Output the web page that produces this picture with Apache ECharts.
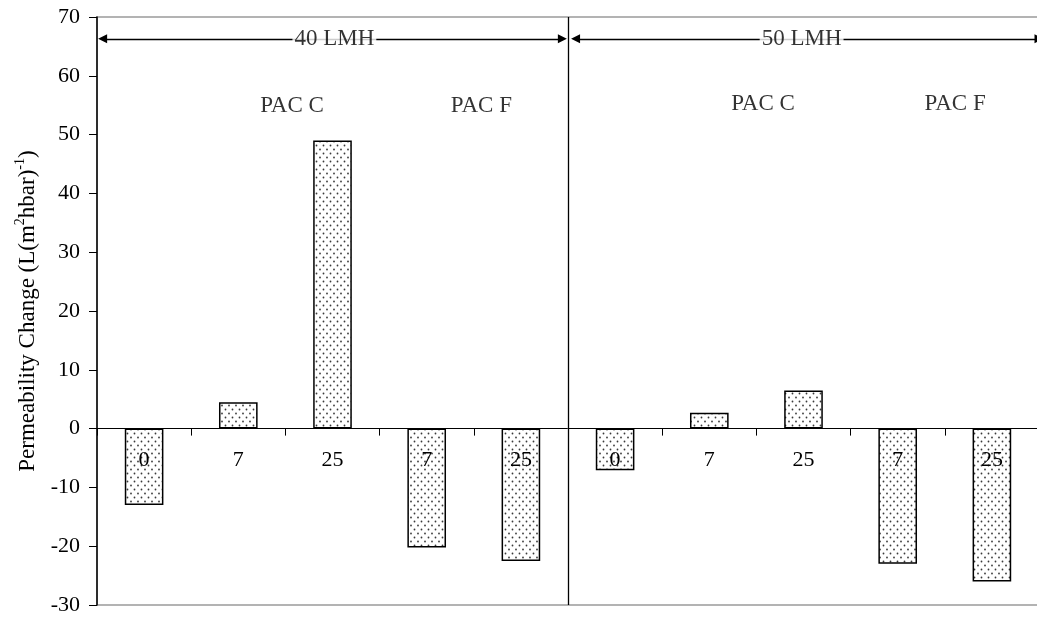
<!DOCTYPE html>
<html>
<head>
<meta charset="utf-8">
<title>Permeability Change</title>
<script src="https://cdn.jsdelivr.net/npm/echarts@6/dist/echarts.min.js"></script>
<style>
  html, body { margin: 0; padding: 0; background: #fff; }
  #chart { width: 1037px; height: 618px; }
</style>
</head>
<body>
<div id="chart"></div>
<script>
// PAC dose (mg/L) for each bar: 40 LMH block then 50 LMH block
const categories = ['0', '7', '25', '7', '25', '0', '7', '25', '7', '25'];
// Permeability change, L/(m2 h bar)
const permeabilityChange = [-13, 4.5, 49, -20.2, -22.5, -7.1, 2.7, 6.5, -23, -26];
const yTicks = { min: -30, max: 70, step: 10 };
const fluxLabels = ['40 LMH', '50 LMH'];
const pacLabels = ['PAC C', 'PAC F', 'PAC C', 'PAC F'];

const FONT = '"Liberation Serif", "Times New Roman", serif';

const GRID = { left: 97, top: 17, width: 942, height: 588 };
// pixel distance from the bottom of the plot up to the zero line
const zeroOffset = GRID.height * (0 - yTicks.min) / (yTicks.max - yTicks.min);

// Stippled fill used for the bars
function dotPattern() {
  const c = document.createElement('canvas');
  c.width = 7; c.height = 8;
  const g = c.getContext('2d');
  g.fillStyle = '#ffffff';
  g.fillRect(0, 0, 7, 8);
  g.fillStyle = '#3a3a3a';
  g.beginPath(); g.arc(1.5, 1.5, 0.9, 0, Math.PI * 2); g.fill();
  g.beginPath(); g.arc(5, 5.5, 0.9, 0, Math.PI * 2); g.fill();
  return c;
}

const chart = echarts.init(document.getElementById('chart'), null, { renderer: 'canvas' });

const textLabel = {
  show: true,
  position: 'inside',
  formatter: p => p.value[2],
  fontSize: 23, fontFamily: FONT, color: '#000'
};

const option = {
  animation: false,
  backgroundColor: '#ffffff',
  textStyle: { fontFamily: FONT, color: '#000' },
  grid: {
    left: GRID.left, top: GRID.top, width: GRID.width, height: GRID.height,
    outerBoundsMode: 'none',
    containLabel: false,
    show: true, borderColor: '#9a9a9a', borderWidth: 1.5, backgroundColor: 'transparent'
  },
  xAxis: [
    {
      type: 'category',
      data: categories,
      z: 5,
      position: 'bottom',
      offset: -zeroOffset,
      axisLine: { onZero: false, lineStyle: { color: '#000', width: 1 } },
      axisTick: { show: true, inside: false, length: 7, interval: 0, lineStyle: { color: '#000' } },
      axisLabel: { interval: 0, margin: 21, fontSize: 22, fontFamily: FONT, color: '#000' },
      splitLine: { show: false }
    },
    {
      // helper axis spanning the ten category slots, used for annotations
      type: 'value', min: 0, max: 10, show: false, position: 'top'
    }
  ],
  yAxis: {
    type: 'value',
    min: yTicks.min, max: yTicks.max, interval: yTicks.step,
    name: '{t|Permeability Change (L(m}{s|2}{t|hbar)}{s|-1}{t|)}',
    nameLocation: 'middle',
    nameGap: 52,
    nameTextStyle: {
      rich: {
        t: { fontSize: 23, fontFamily: FONT, color: '#000', lineHeight: 26, verticalAlign: 'bottom' },
        s: { fontSize: 14, fontFamily: FONT, color: '#000', lineHeight: 26, verticalAlign: 'top' }
      }
    },
    axisLine: { show: true, lineStyle: { color: '#000', width: 1.5 } },
    axisTick: { show: true, length: 8, lineStyle: { color: '#000' } },
    axisLabel: { margin: 17, fontSize: 22, fontFamily: FONT, color: '#000' },
    splitLine: { show: false }
  },
  series: [
    {
      type: 'bar',
      data: permeabilityChange,
      barWidth: '41%',
      itemStyle: {
        color: { image: dotPattern(), repeat: 'repeat' },
        borderColor: '#000',
        borderWidth: 1.5
      },
      z: 2
    },
    {
      // arrows and the separator between the two flux blocks
      type: 'scatter',
      xAxisIndex: 1,
      silent: true,
      symbolSize: 0,
      z: 6,
      data: [
        [2.07, 54.9, pacLabels[0]],
        [4.08, 54.9, pacLabels[1]],
        [7.07, 55.2, pacLabels[2]],
        [9.11, 55.2, pacLabels[3]]
      ],
      label: textLabel,
      markLine: {
        silent: true,
        animation: false,
        symbol: ['triangle', 'triangle'],
        symbolSize: 9,
        lineStyle: { color: '#000', width: 1.3, type: 'solid' },
        label: { show: false },
        data: [
          [ { coord: [0.06, 66.3] }, { coord: [4.94, 66.3] } ],
          [ { coord: [5.08, 66.3] }, { coord: [10.0, 66.3] } ],
          [
            { coord: [5, yTicks.min], symbol: 'none' },
            { coord: [5, yTicks.max], symbol: 'none' }
          ]
        ]
      }
    },
    {
      // flux labels sitting on the arrows
      type: 'scatter',
      xAxisIndex: 1,
      silent: true,
      symbolSize: 0,
      z: 7,
      data: [
        [2.52, 66.3, fluxLabels[0]],
        [7.48, 66.3, fluxLabels[1]]
      ],
      label: Object.assign({}, textLabel, { backgroundColor: '#fff', padding: [0, 2] })
    }
  ]
};

chart.setOption(option);
</script>
</body>
</html>
